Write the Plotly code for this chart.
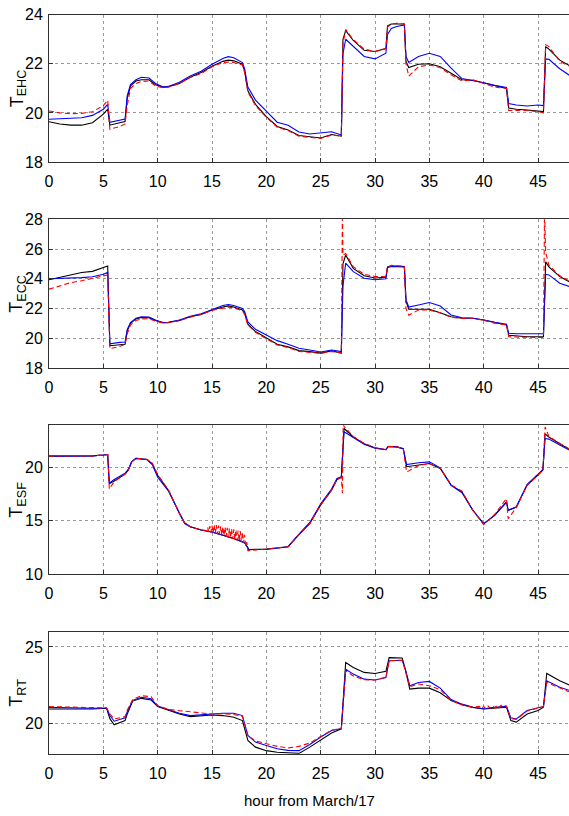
import plotly.graph_objects as go

# ---------------- data ----------------
# Panel 1: T_EHC
t1 = [0, 1, 2, 3, 4, 5, 5.4, 5.6, 6.5, 7.0, 7.2, 7.5, 8.0, 8.5, 9.2, 9.8, 10.5, 11, 12, 13,
      14, 15, 16, 16.5, 17, 17.8, 18.0, 18.3, 19, 20, 21, 22, 23, 24, 25, 26, 26.9, 27.05, 27.3, 28,
      29, 30, 31, 31.15, 31.5, 32, 32.7, 32.85, 33.1, 34, 35, 36, 37, 38, 39, 40, 41, 42.1, 42.3, 43,
      44, 45, 45.5, 45.7, 46, 47, 48]
ehc_black = [19.64, 19.55, 19.5, 19.5, 19.6, 19.95, 20.15, 19.5, 19.6, 19.65, 20.6, 21.1, 21.3, 21.35, 21.35, 21.15, 21.05, 21.07, 21.2, 21.45,
             21.65, 21.9, 22.1, 22.15, 22.12, 21.98, 21.7, 20.9, 20.35, 19.85, 19.45, 19.3, 19.08, 19.02, 18.98, 19.12, 19.05, 23.0, 23.35, 22.95,
             22.55, 22.5, 22.62, 23.55, 23.62, 23.62, 23.62, 22.1, 21.85, 21.98, 22.0, 21.88, 21.6, 21.35, 21.33, 21.22, 21.1, 21.0, 20.2, 20.15,
             20.12, 20.08, 20.05, 22.7, 22.6, 22.15, 21.9]
ehc_blue = [19.74, 19.75, 19.78, 19.8, 19.9, 20.15, 20.35, 19.62, 19.7, 19.75, 20.7, 21.15, 21.35, 21.45, 21.42, 21.2, 21.05, 21.08, 21.25, 21.5,
            21.7, 21.98, 22.22, 22.29, 22.25, 22.05, 21.8, 21.05, 20.52, 20.05, 19.62, 19.5, 19.22, 19.14, 19.17, 19.23, 19.1, 22.4, 23.0, 22.7,
            22.3, 22.2, 22.43, 23.2, 23.44, 23.52, 23.58, 22.3, 22.05, 22.3, 22.43, 22.3, 21.82, 21.4, 21.33, 21.23, 21.12, 21.04, 20.38, 20.32,
            20.28, 20.32, 20.3, 22.2, 22.18, 21.8, 21.5]
ehc_red = [20.08, 20.0, 19.97, 19.98, 20.05, 20.3, 20.52, 19.33, 19.45, 19.55, 20.3, 21.0, 21.2, 21.28, 21.3, 21.1, 21.02, 21.05, 21.2, 21.45,
           21.6, 21.88, 22.05, 22.07, 22.05, 21.95, 21.65, 20.85, 20.3, 19.82, 19.42, 19.28, 19.05, 19.0, 18.96, 19.1, 19.05, 22.8, 23.4, 22.98,
           22.6, 22.5, 22.62, 23.5, 23.62, 23.65, 23.62, 22.0, 21.5, 21.88, 21.95, 21.85, 21.55, 21.3, 21.35, 21.2, 21.05, 21.0, 20.1, 20.1,
           20.1, 20.05, 20.0, 22.78, 22.7, 22.1, 21.88]

# Panel 2: T_ECC (same hours as panel 1)
t2 = t1
ecc_black = [23.93, 24.1, 24.3, 24.42, 24.5, 24.75, 24.86, 19.5, 19.55, 19.6, 20.5, 21.0, 21.3, 21.4, 21.38, 21.2, 21.05, 21.07, 21.2, 21.45,
             21.6, 21.9, 22.1, 22.18, 22.1, 21.9, 21.7, 20.95, 20.45, 20.0, 19.6, 19.42, 19.17, 19.1, 19.0, 19.15, 19.0, 25.0, 25.6, 24.7,
             24.2, 24.05, 24.1, 24.8, 24.86, 24.86, 24.82, 22.5, 21.95, 21.95, 21.95, 21.72, 21.45, 21.35, 21.35, 21.23, 21.05, 20.9, 20.2, 20.15,
             20.1, 20.1, 20.1, 25.15, 24.8, 24.15, 23.75]
ecc_blue = [24.0, 24.02, 24.03, 24.08, 24.14, 24.3, 24.43, 19.62, 19.72, 19.75, 20.6, 21.05, 21.35, 21.45, 21.42, 21.22, 21.05, 21.08, 21.22, 21.48,
            21.65, 21.95, 22.2, 22.27, 22.2, 22.0, 21.8, 21.1, 20.6, 20.22, 19.84, 19.6, 19.33, 19.21, 19.08, 19.21, 19.1, 23.5, 25.05, 24.48,
            24.04, 23.93, 24.0, 24.75, 24.82, 24.82, 24.8, 22.6, 22.1, 22.24, 22.4, 22.17, 21.57, 21.38, 21.35, 21.23, 21.07, 20.95, 20.33, 20.3,
            20.29, 20.3, 20.3, 24.3, 24.26, 23.7, 23.45]
ecc_red = [23.3, 23.52, 23.74, 23.87, 24.03, 24.15, 24.26, 19.3, 19.45, 19.6, 20.3, 20.9, 21.2, 21.3, 21.32, 21.15, 21.02, 21.05, 21.18, 21.42,
           21.6, 21.88, 22.05, 22.09, 22.05, 21.85, 21.6, 20.9, 20.4, 19.95, 19.55, 19.38, 19.12, 19.05, 18.98, 19.12, 19.0, 25.6, 25.7, 24.82,
           24.3, 24.15, 24.15, 24.8, 24.9, 24.88, 24.85, 22.0, 21.55, 21.9, 21.9, 21.7, 21.42, 21.33, 21.35, 21.2, 21.02, 20.9, 20.1, 20.08,
           20.05, 20.05, 20.05, 25.8, 24.9, 24.2, 23.8]
ecc_red_spike_t = [27.0, 45.6]
ecc_red_spike_v = [28.6, 28.6]

# Panel 3: T_ESF
t3 = [0, 4, 5, 5.4, 5.55, 6, 7, 7.3, 7.6, 8, 9, 9.5, 10, 11, 12, 12.5, 13, 14, 15, 16,
      17, 18, 18.4, 20, 22, 23, 24, 25, 26, 26.5, 26.9, 27.15, 28, 29, 30, 31, 31.2, 32, 32.6, 32.9,
      34, 35, 36, 37, 38, 39, 40, 41, 42.1, 42.25, 43, 44, 45, 45.45, 45.65, 46, 47, 48]
esf_black = [21.1, 21.12, 21.2, 21.25, 18.5, 18.75, 19.4, 19.8, 20.55, 20.88, 20.78, 20.4, 19.3, 17.85, 15.7, 14.75, 14.45, 14.15, 13.95, 13.68,
             13.35, 12.95, 12.3, 12.35, 12.57, 13.7, 14.76, 16.5, 17.9, 18.9, 19.1, 23.7, 22.9, 22.27, 21.87, 21.7, 22.0, 21.97, 21.8, 20.1,
             20.25, 20.4, 19.94, 18.37, 17.74, 16.0, 14.7, 15.55, 16.8, 16.0, 16.3, 18.37, 19.3, 19.78, 23.2, 22.9, 22.27, 21.66]
esf_blue = [21.1, 21.12, 21.2, 21.25, 18.55, 18.9, 19.5, 19.85, 20.55, 20.88, 20.78, 20.3, 19.1, 17.8, 15.75, 14.8, 14.45, 14.15, 13.95, 13.68,
            13.35, 12.95, 12.3, 12.3, 12.57, 13.75, 14.85, 16.6, 18.0, 19.0, 19.15, 23.4, 22.85, 22.22, 21.85, 21.7, 22.0, 21.97, 21.8, 20.3,
            20.47, 20.56, 20.0, 18.35, 17.65, 16.0, 14.75, 15.5, 16.75, 16.0, 16.3, 18.45, 19.4, 19.85, 22.75, 22.7, 22.15, 21.6]
esf_red = [21.1, 21.12, 21.2, 21.25, 18.0, 18.7, 19.4, 19.75, 20.5, 20.9, 20.8, 20.45, 19.35, 17.9, 15.7, 14.75, 14.45, 14.15, 13.9, 13.65,
           13.3, 12.8, 12.2, 12.35, 12.57, 13.7, 14.75, 16.5, 17.9, 18.9, 19.1, 23.9, 22.95, 22.3, 21.9, 21.72, 22.02, 21.98, 21.8, 19.6,
           20.2, 20.4, 19.95, 18.4, 17.8, 16.0, 14.65, 15.6, 17.1, 15.2, 16.25, 18.35, 19.3, 19.78, 23.84, 22.95, 22.3, 21.7]
esf_red_osc_t = [14.5, 14.6, 14.7, 14.8, 14.9, 15.0, 15.1, 15.2, 15.3, 15.4, 15.5, 15.6, 15.7, 15.8, 15.9, 16.0, 16.1, 16.2, 16.3, 16.4,
                 16.5, 16.6, 16.7, 16.8, 16.9, 17.0, 17.1, 17.2, 17.3, 17.4, 17.5, 17.6, 17.7, 17.8, 17.9, 18.0, 18.1, 18.2, 18.3,
                 27.0, 27.07]
esf_red_osc_v = [14.1, 14.4, 13.95, 14.5, 13.9, 14.55, 13.85, 14.6, 13.8, 14.6, 13.75, 14.55, 13.7, 14.5, 13.65, 14.45, 13.6, 14.4, 13.5, 14.35,
                 13.45, 14.3, 13.4, 14.25, 13.3, 14.2, 13.25, 14.15, 13.15, 14.1, 13.1, 14.05, 13.0, 13.95, 12.9, 13.7, 12.6, 13.0, 12.2,
                 17.6, 24.1]

# Panel 4: T_RT
t4 = [0, 2, 4, 5.3, 5.6, 6, 7, 7.2, 7.7, 8.5, 9.4, 10, 11, 12, 13, 14, 15, 16, 17, 17.8,
      18.3, 19, 20, 21, 22, 23, 24, 25, 26, 26.9, 27.3, 28, 29, 30, 31, 31.3, 32.5, 32.8, 33.2, 34,
      35, 36, 37, 38, 39, 40, 41, 42.1, 42.5, 43, 44, 45, 45.5, 45.8, 47, 48]
rt_black = [20.93, 20.93, 20.93, 20.98, 20.3, 19.9, 20.17, 20.6, 21.45, 21.63, 21.52, 21.09, 20.83, 20.6, 20.43, 20.5, 20.54, 20.5, 20.39, 20.17,
            18.87, 18.43, 18.2, 18.1, 18.05, 18.02, 18.43, 18.87, 19.35, 19.63, 23.98, 23.65, 23.33, 23.26, 23.4, 24.3, 24.28, 23.5, 22.24, 22.3,
            22.3, 22.0, 21.48, 21.22, 21.04, 20.93, 21.0, 21.05, 20.17, 20.07, 20.6, 20.83, 21.05, 23.26, 22.78, 22.46]
rt_blue = [21.04, 21.0, 20.98, 21.0, 20.5, 20.13, 20.35, 20.75, 21.5, 21.7, 21.6, 21.12, 20.87, 20.65, 20.5, 20.55, 20.6, 20.65, 20.65, 20.5,
           19.2, 18.76, 18.54, 18.33, 18.22, 18.2, 18.6, 19.09, 19.52, 19.65, 23.54, 23.22, 22.89, 22.83, 23.0, 24.1, 24.13, 23.5, 22.46, 22.67,
           22.74, 22.3, 21.55, 21.25, 21.05, 20.95, 21.05, 21.1, 20.35, 20.28, 20.83, 21.0, 21.1, 22.78, 22.35, 22.13]
rt_red = [21.09, 21.05, 21.0, 21.0, 20.6, 20.28, 20.43, 20.85, 21.55, 21.8, 21.74, 21.15, 20.9, 20.83, 20.72, 20.65, 20.6, 20.62, 20.57, 20.45,
          19.2, 18.83, 18.65, 18.48, 18.38, 18.48, 18.7, 19.13, 19.55, 19.65, 23.43, 23.1, 22.85, 22.83, 23.02, 24.1, 24.13, 23.4, 22.4, 22.57,
          22.46, 22.2, 21.5, 21.2, 21.05, 20.95, 21.05, 21.1, 20.3, 20.25, 20.8, 20.98, 21.1, 22.67, 22.3, 22.02]
rt_red_osc_t = [39.6, 39.8, 40.0, 40.2, 40.4, 40.6, 40.8, 41.0, 41.2, 41.4, 41.6, 41.8, 42.0]
rt_red_osc_v = [21.1, 20.95, 21.1, 20.95, 21.12, 20.98, 21.15, 21.0, 21.15, 21.02, 21.17, 21.05, 21.15]

y_titles = ["T<sub>EHC</sub>", "T<sub>ECC</sub>", "T<sub>ESF</sub>", "T<sub>RT</sub>"]
y_ranges = [[18, 24], [18, 28], [10, 24], [18, 26]]
y_ticks = [[18, 20, 22, 24], [18, 20, 22, 24, 26, 28], [10, 15, 20], [20, 25]]
x_ticks = [0, 5, 10, 15, 20, 25, 30, 35, 40, 45]
x_label = "hour from March/17"


def merge(t, v, et, ev, cut=None):
    pts = [(a, b) for a, b in zip(t, v) if not (cut and cut[0] <= a <= cut[1])]
    pts += list(zip(et, ev))
    pts.sort(key=lambda p: p[0])
    return [p[0] for p in pts], [p[1] for p in pts]


panels = [
    (t1, ehc_black, ehc_blue, (t1, ehc_red)),
    (t2, ecc_black, ecc_blue, merge(t2, ecc_red, ecc_red_spike_t, ecc_red_spike_v)),
    (t3, esf_black, esf_blue, merge(t3, esf_red, esf_red_osc_t, esf_red_osc_v, cut=(14.45, 18.35))),
    (t4, rt_black, rt_blue, merge(t4, rt_red, rt_red_osc_t, rt_red_osc_v, cut=(39.5, 42.05))),
]

# ---------------- layout ----------------
W, H = 569, 816
left_px = 49
panel_px = [(14.7, 162.0), (219.3, 368.0), (425.3, 574.0), (631.7, 753.7)]
FONT = "Liberation Sans, Arial, sans-serif"
AX = "#303030"
GRID = "#9a9a9a"

fig = go.Figure()
layout = dict(
    template="none",
    width=W, height=H, margin=dict(l=0, r=0, t=0, b=0, pad=0),
    paper_bgcolor="white", plot_bgcolor="white", showlegend=False,
    font=dict(family=FONT, size=16, color="black"),
)
annotations = []
for i, (t, kb, bl, (tr, rd)) in enumerate(panels):
    n = "" if i == 0 else str(i + 1)
    xa, ya = "x" + n, "y" + n
    fig.add_trace(go.Scatter(x=t, y=kb, mode="lines", line=dict(color="black", width=1.1),
                             xaxis=xa, yaxis=ya, hoverinfo="skip"))
    fig.add_trace(go.Scatter(x=t, y=bl, mode="lines", line=dict(color="#0000ff", width=1.1),
                             xaxis=xa, yaxis=ya, hoverinfo="skip"))
    fig.add_trace(go.Scatter(x=tr, y=rd, mode="lines", line=dict(color="#ff0000", width=1.1, dash="5px,3px"),
                             xaxis=xa, yaxis=ya, hoverinfo="skip"))
    top, bot = panel_px[i]
    dom = [1 - bot / H, 1 - top / H]
    layout["xaxis" + n] = dict(
        domain=[left_px / W, 1], anchor=ya, range=[0, 47.85], tickvals=x_ticks,
        showgrid=True, gridcolor=GRID, griddash="dot", gridwidth=1,
        showline=True, linecolor=AX, linewidth=1, mirror=True, automargin=False,
        ticks="inside", ticklen=4, tickcolor=AX, zeroline=False,
        tickfont=dict(family=FONT, size=16), ticklabelstandoff=5,
    )
    layout["yaxis" + n] = dict(
        domain=dom, anchor=xa, range=y_ranges[i], tickvals=y_ticks[i],
        showgrid=True, gridcolor=GRID, griddash="dot", gridwidth=1,
        showline=True, linecolor=AX, linewidth=1, mirror=False, automargin=False,
        ticks="inside", ticklen=4, tickcolor=AX, zeroline=False,
        tickfont=dict(family=FONT, size=16), ticklabelstandoff=2,
    )
    annotations.append(dict(
        text=y_titles[i], xref="paper", yref="paper", x=18 / W, y=(dom[0] + dom[1]) / 2,
        showarrow=False, textangle=-90, xanchor="center", yanchor="middle",
        font=dict(family=FONT, size=18, color="black"),
    ))

annotations.append(dict(
    text=x_label, xref="paper", yref="paper", x=309 / W, y=1 - 800 / H,
    showarrow=False, xanchor="center", yanchor="middle",
    font=dict(family=FONT, size=15, color="black"),
))
layout["annotations"] = annotations
fig.update_layout(**layout)
fig.write_html("out.html", config={"displayModeBar": False},
               post_script="document.body.style.margin='0';document.body.style.overflow='hidden';")
